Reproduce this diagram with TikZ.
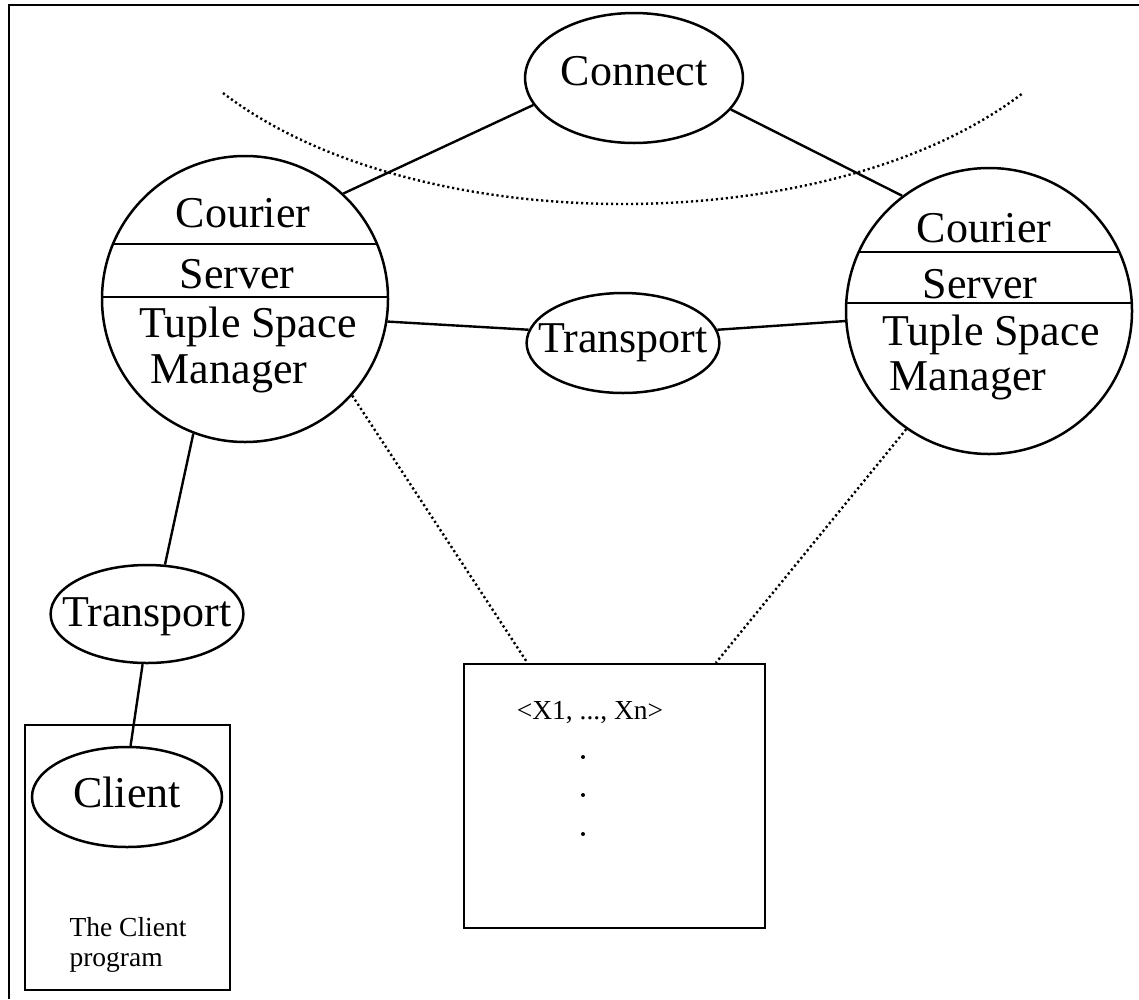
\documentclass[tikz,border=0pt]{standalone}
\usepackage{fontspec}
\setmainfont{Liberation Serif}
\usetikzlibrary{shapes.geometric,calc,positioning}

\tikzset{
    big/.style={font=\fontsize{44}{46}\selectfont},
    small/.style={font=\fontsize{27.5}{30}\selectfont},
    oval/.style={ellipse,draw,line width=2.5pt,inner ysep=0pt,big},
    srv/.style={circle,draw,line width=2.5pt,minimum size=286pt,inner sep=0pt},
    conn/.style={line width=2.4pt},
    dots/.style={line width=2.4pt,dash pattern=on 2.2pt off 2.8pt},
    frame/.style={draw,line width=2.3pt}
}

\begin{document}
\begin{tikzpicture}[x=1pt,y=-1pt]
    \useasboundingbox (0,0) rectangle (1139,999);
    \draw[line width=2.8pt] (9,999) -- (9,5) -- (1139,5);

    \node[oval,inner xsep=3.7pt,minimum height=130pt,text height=30pt,text depth=16pt] (con) at (634,78) {Connect};
    \node[srv] (s1) at (245,299) {};
    \node[srv] (s2) at (989,311) {};
    \node[oval,inner xsep=-16.6pt,minimum height=100pt,text height=29pt,text depth=11pt] (t1) at (623,343) {Transport};
    \node[oval,inner xsep=-16.6pt,minimum height=98pt,text height=29pt,text depth=5pt] (t2) at (147,614) {Transport};
    \node[frame,minimum width=205pt,minimum height=265pt] (cb) at (127.5,857.5) {};
    \node[oval,inner xsep=13.4pt,minimum height=100pt,text height=30pt,text depth=10pt] (cl) at (127,797) {Client};
    \node[frame,minimum width=301pt,minimum height=264pt] (tsp) at (614.5,796) {};

    \begin{scope}
        \clip (s1.center) circle[radius=142pt];
        \draw[conn] (100,244) -- (390,244);
        \draw[conn] (100,297) -- (390,297);
    \end{scope}
    \begin{scope}
        \clip (s2.center) circle[radius=142pt];
        \draw[conn] (845,252) -- (1135,252);
        \draw[conn] (845,303) -- (1135,303);
    \end{scope}

    \node[big,anchor=base] (c1) at (243,227) {Courier};
    \node[big,anchor=base] (v1) at (237,288) {Server};
    \node[big,anchor=base] (m1) at (248,337) {Tuple Space};
    \node[big,anchor=base] (g1) at (229,383) {Manager};
    \node[big,anchor=base] (c2) at (984,242) {Courier};
    \node[big,anchor=base] (v2) at (980,298) {Server};
    \node[big,anchor=base] (m2) at (991,345) {Tuple Space};
    \node[big,anchor=base] (g2) at (968,390) {Manager};

    \node[small,anchor=base west] (p1) at (66,936) {The Client};
    \node[small,anchor=base west] (p2) at (66,966) {program};
    \node[small,anchor=base] (tup) at (590,719) {<X1, ..., Xn>};
    \foreach \y in {757,795,834}
        \fill (583,\y) circle[radius=2pt];

    \draw[dots] (223,93) .. controls (416,241) and (830,241) .. (1023,93);

    \draw[conn] (con.195) -- (s1.47);
    \draw[conn] (con.-18) -- (s2.127);
    \draw[conn] (s1.-9) -- (t1.172);
    \draw[conn] (t1.8) -- (s2.184);
    \draw[conn] (s1.249) -- (t2.70);
    \draw[conn] (t2.265) -- (cl.86);
    \draw[dots] (s1.-42.5) -- ($(tsp.north west)!0.213!(tsp.north east)$);
    \draw[dots] (s2.235) -- ($(tsp.north west)!0.834!(tsp.north east)$);
\end{tikzpicture}
\end{document}
